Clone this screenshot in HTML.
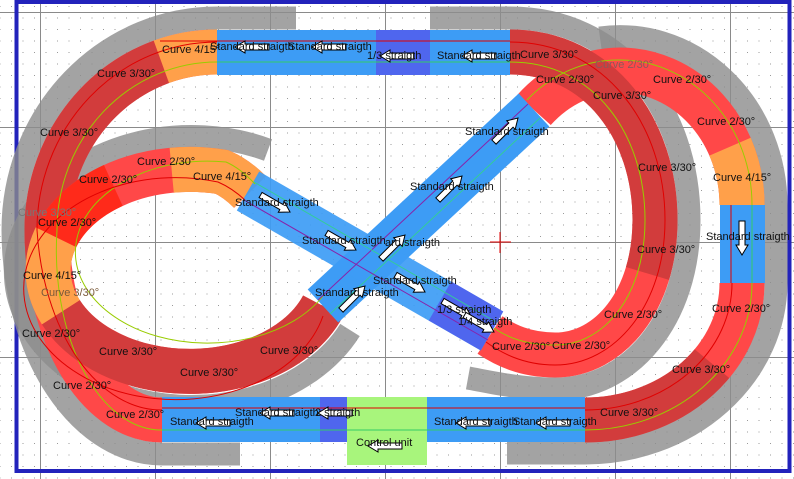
<!DOCTYPE html>
<html><head><meta charset="utf-8"><style>
html,body{margin:0;padding:0;background:#fff;}
svg{display:block;}
text{font-family:"Liberation Sans",sans-serif;font-size:11px;fill:#111;dominant-baseline:middle;}
</style></head><body>
<svg width="794" height="479" viewBox="0 0 794 479" xmlns="http://www.w3.org/2000/svg">
<defs>
<pattern id="dots" width="11.5" height="11.5" patternUnits="userSpaceOnUse" x="6" y="1">
<rect x="5" y="5" width="1" height="1" fill="#9a9a9a"/>
</pattern>
<g id="arw"><polygon points="0,0 10,-6 10,-3 34,-3 34,3 10,3 10,6" fill="#fff" stroke="#000" stroke-width="1"/></g>
</defs>
<rect width="794" height="479" fill="#fff"/>
<rect width="794" height="479" fill="url(#dots)"/>
<g stroke="#8a8a8a" stroke-width="1">
<line x1="40.5" y1="0" x2="40.5" y2="479"/><line x1="155.5" y1="0" x2="155.5" y2="479"/>
<line x1="270.5" y1="0" x2="270.5" y2="479"/><line x1="385.5" y1="0" x2="385.5" y2="479"/>
<line x1="500.5" y1="0" x2="500.5" y2="479"/><line x1="615.5" y1="0" x2="615.5" y2="479"/>
<line x1="730.5" y1="0" x2="730.5" y2="479"/>
<line x1="0" y1="12.5" x2="794" y2="12.5"/><line x1="0" y1="127.5" x2="794" y2="127.5"/>
<line x1="0" y1="242.5" x2="794" y2="242.5"/><line x1="0" y1="357.5" x2="794" y2="357.5"/>
</g>
<rect x="16.5" y="2" width="773" height="469" fill="none" stroke="#2222bb" stroke-width="4"/>

<g fill="none" stroke="rgba(140,140,140,0.8)" stroke-width="23">
<path d="M296,18 L217,18 A204,212 0 0 0 13,230 A149,224 0 0 0 162,454 L240,454"/>
<path d="M507,453 L585,453 A191,171 0 0 0 776,283 L776,205 A156,169 0 0 0 600,38"/>
<path d="M430,18 L510,18 C620,18 689,110 689,220 C689,320 630,389 555,389 C520,389 490,382 468,378"/>
<path d="M350,330 A176,135 0 1 1 268,150"/>
</g>

<g fill="none" stroke-width="45">
<path d="M217,52 A170,178 0 0 0 47,230 A115,190 0 0 0 162,420" stroke="#ff4848"/>
<path d="M217,52 A170,178 0 0 0 47,230 A115,190 0 0 0 162,420" pathLength="100" stroke="#d23c3c" stroke-dasharray="0 11 49 100"/>
<path d="M217,52 A170,178 0 0 0 47,230 A115,190 0 0 0 162,420" pathLength="100" stroke="#ffa04a" stroke-dasharray="11 100"/>
<path d="M585,420 A157,137 0 0 0 742,283" stroke="#ff4848"/>
<path d="M585,420 A157,137 0 0 0 742,283" pathLength="100" stroke="#d23c3c" stroke-dasharray="62 100"/>
<path d="M742,205 A122,135 0 0 0 620,70 A122,135 0 0 0 534,110" stroke="#ff4848"/>
<path d="M742,205 A122,135 0 0 0 620,70 A122,135 0 0 0 534,110" pathLength="100" stroke="#ffa04a" stroke-dasharray="20 100"/>
</g>
<rect x="217" y="30" width="293" height="45" fill="#3d9cf5"/>
<rect x="376" y="30" width="54" height="45" fill="#4f66ee"/>
<rect x="162" y="397" width="423" height="45" fill="#3d9cf5"/>
<rect x="320" y="397" width="27" height="45" fill="#4f66ee"/>
<rect x="347" y="397" width="80" height="68" fill="#a8f57c"/>
<rect x="720" y="205" width="45" height="78" fill="#3d9cf5"/>

<g fill="none" stroke-width="45">
<path d="M510,52 C600,52 655,130 655,220 C655,300 610,355 555,355 C525,355 505,345 490,335" stroke="#ff4848"/>
<path d="M510,52 C600,52 655,130 655,220 C655,300 610,355 555,355 C525,355 505,345 490,335" pathLength="100" stroke="#d23c3c" stroke-dasharray="60 100"/>
<path d="M323,306 A142,101 0 1 1 222,172 Q236,178 250,192" stroke="#ff4848"/>
<path d="M323,306 A142,101 0 1 1 222,172 Q236,178 250,192" pathLength="100" stroke="#d23c3c" stroke-dasharray="50 100"/>
<path d="M323,306 A142,101 0 1 1 222,172 Q236,178 250,192" pathLength="100" stroke="#ff2a1a" stroke-dasharray="0 63 13 100"/>
<path d="M323,306 A142,101 0 1 1 222,172 Q236,178 250,192" pathLength="100" stroke="#ffa04a" stroke-dasharray="0 50 13 100"/>
<path d="M323,306 A142,101 0 1 1 222,172 Q236,178 250,192" pathLength="100" stroke="#ffa04a" stroke-dasharray="0 86 14 100"/>
<line x1="534" y1="110" x2="323" y2="306" stroke="#3d9cf5"/>
<line x1="248" y1="191" x2="492" y2="331" stroke="rgba(61,156,245,0.92)"/>
<line x1="440" y1="301" x2="492" y2="331" stroke="#4f66ee"/>
</g>

<g fill="none" stroke-width="1">
<line x1="160" y1="41" x2="510" y2="41" stroke="#e00000"/>
<line x1="162" y1="408" x2="585" y2="408" stroke="#e00000"/>
<line x1="217" y1="62" x2="510" y2="62" stroke="#33cc66"/>
<line x1="162" y1="430" x2="585" y2="430" stroke="#33cc66"/>
<line x1="752" y1="205" x2="752" y2="283" stroke="#33cc66"/>
<line x1="731" y1="205" x2="731" y2="283" stroke="#e00000"/>
<path d="M217,62 A160,168 0 0 0 57,230 A105,180 0 0 0 162,430" stroke="#99cc00"/>
<path d="M217,42 A180,188 0 0 0 37,230 A125,200 0 0 0 162,410" stroke="#e00000"/>
<path d="M585,430 A167,147 0 0 0 752,283" stroke="#99cc00"/>
<path d="M585,410 A147,127 0 0 0 732,283" stroke="#e00000"/>
<path d="M752,205 A132,145 0 0 0 620,60 A132,145 0 0 0 527,100" stroke="#99cc00"/>
<path d="M510,62 C595,62 645,135 645,220 C645,295 605,345 555,345 C528,345 508,338 494,328" stroke="#99cc00"/>
<path d="M510,42 C605,42 665,125 665,220 C665,305 615,365 555,365 C522,365 500,352 486,342" stroke="#e00000"/>
<path d="M323,296 A132,91 0 1 1 226,162 Q240,168 255,184" stroke="#99cc00"/>
<path d="M323,316 A152,111 0 1 1 218,182 Q232,188 245,200" stroke="#e00000"/>
<line x1="540" y1="118" x2="330" y2="314" stroke="#33cc99"/>
<line x1="528" y1="104" x2="318" y2="300" stroke="#8822aa"/>
<line x1="254" y1="182" x2="496" y2="322" stroke="#33cc99"/>
<line x1="244" y1="200" x2="488" y2="340" stroke="#8822aa"/>
</g>
<g stroke="#e00000" stroke-width="1"><line x1="490" y1="242" x2="511" y2="242"/><line x1="500" y1="232" x2="500" y2="253"/></g>

<use href="#arw" transform="translate(235,47)"/>
<use href="#arw" transform="translate(312,47)"/>
<use href="#arw" transform="translate(380,56)"/>
<use href="#arw" transform="translate(462,56)"/>
<use href="#arw" transform="translate(196,423)"/>
<use href="#arw" transform="translate(260,413)"/>
<use href="#arw" transform="translate(318,413)"/>
<use href="#arw" transform="translate(368,446)"/>
<use href="#arw" transform="translate(456,423)"/>
<use href="#arw" transform="translate(536,423)"/>
<use href="#arw" transform="translate(742,255) rotate(-90)"/>
<use href="#arw" transform="translate(518,118) rotate(135)"/>
<use href="#arw" transform="translate(462,176) rotate(135)"/>
<use href="#arw" transform="translate(405,235) rotate(135)"/>
<use href="#arw" transform="translate(365,286) rotate(135)"/>
<use href="#arw" transform="translate(290,212) rotate(210)"/>
<use href="#arw" transform="translate(356,250) rotate(210)"/>
<use href="#arw" transform="translate(425,292) rotate(210)"/>
<use href="#arw" transform="translate(472,318) rotate(210)"/>
<use href="#arw" transform="translate(494,332) rotate(210)"/>

<g>
<text x="162" y="50">Curve 4/15°</text>
<text x="210" y="47">Standard straigth</text>
<text x="288" y="47">Standard straigth</text>
<text x="367" y="56">1/3 straigth</text>
<text x="437" y="56">Standard straigth</text>
<text x="520" y="55">Curve 3/30°</text>
<text x="595" y="65" style="fill:#8a5a5a">Curve 2/30°</text>
<text x="536" y="80">Curve 2/30°</text>
<text x="593" y="96">Curve 3/30°</text>
<text x="653" y="80">Curve 2/30°</text>
<text x="697" y="122">Curve 2/30°</text>
<text x="713" y="178">Curve 4/15°</text>
<text x="706" y="237">Standard straigth</text>
<text x="97" y="74">Curve 3/30°</text>
<text x="40" y="133">Curve 3/30°</text>
<text x="137" y="162">Curve 2/30°</text>
<text x="79" y="180">Curve 2/30°</text>
<text x="193" y="177">Curve 4/15°</text>
<text x="235" y="203">Standard straigth</text>
<text x="18" y="213" style="fill:#777">Curve 3/30°</text>
<text x="38" y="223">Curve 2/30°</text>
<text x="465" y="132">Standard straigth</text>
<text x="410" y="187">Standard straigth</text>
<text x="302" y="241">Standard straigth</text>
<text x="385" y="243">ard straigth</text>
<text x="373" y="281">Standard straigth</text>
<text x="315" y="293">Standard straigth</text>
<text x="638" y="168">Curve 3/30°</text>
<text x="637" y="250">Curve 3/30°</text>
<text x="23" y="276">Curve 4/15°</text>
<text x="41" y="293" style="fill:#7a5a3a">Curve 3/30°</text>
<text x="22" y="334">Curve 2/30°</text>
<text x="99" y="352">Curve 3/30°</text>
<text x="260" y="351">Curve 3/30°</text>
<text x="180" y="373">Curve 3/30°</text>
<text x="53" y="386">Curve 2/30°</text>
<text x="106" y="415">Curve 2/30°</text>
<text x="170" y="422">Standard straigth</text>
<text x="235" y="413">Standard straigth</text>
<text x="315" y="413">2 straigth</text>
<text x="437" y="310">1/3 straigth</text>
<text x="458" y="322">1/4 straigth</text>
<text x="492" y="347">Curve 2/30°</text>
<text x="552" y="346">Curve 2/30°</text>
<text x="604" y="315">Curve 2/30°</text>
<text x="712" y="309">Curve 2/30°</text>
<text x="672" y="370">Curve 3/30°</text>
<text x="600" y="413">Curve 3/30°</text>
<text x="434" y="422">Standard straigth</text>
<text x="513" y="422">Standard straigth</text>
<text x="356" y="443">Control unit</text>
</g>
</svg>
</body></html>
